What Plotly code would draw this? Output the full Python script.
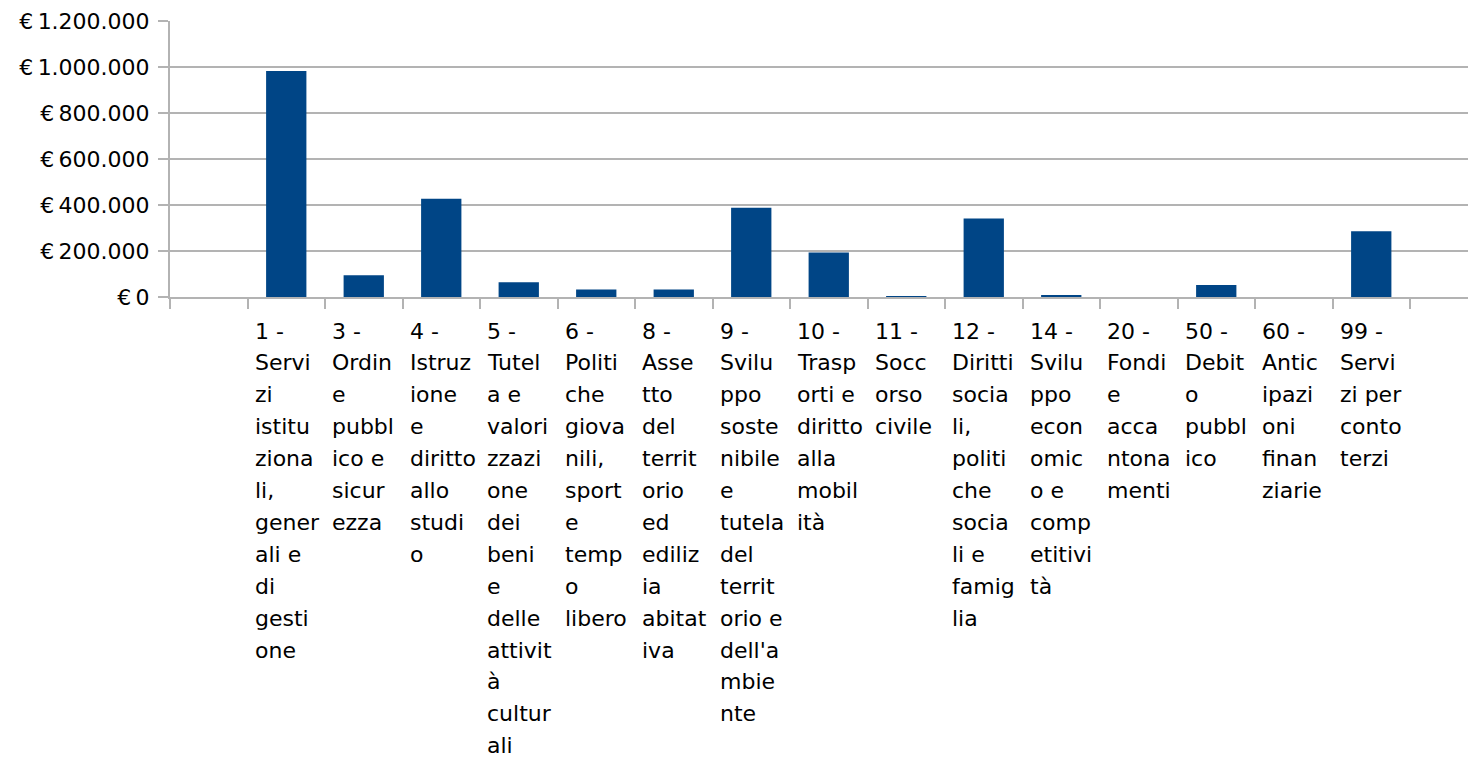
import plotly.graph_objects as go

# ---- data ----
categories = [
    "1 - Servizi istituzionali, generali e di gestione",
    "3 - Ordine pubblico e sicurezza",
    "4 - Istruzione e diritto allo studio",
    "5 - Tutela e valorizzazione dei beni e delle attività culturali",
    "6 - Politiche giovanili, sport e tempo libero",
    "8 - Assetto del territorio ed edilizia abitativa",
    "9 - Sviluppo sostenibile e tutela del territorio e dell'ambiente",
    "10 - Trasporti e diritto alla mobilità",
    "11 - Soccorso civile",
    "12 - Diritti sociali, politiche sociali e famiglia",
    "14 - Sviluppo economico e competitività",
    "20 - Fondi e accantonamenti",
    "50 - Debito pubblico",
    "60 - Anticipazioni finanziarie",
    "99 - Servizi per conto terzi",
]
values = [983000, 95000, 427000, 64000, 33000, 33000, 388000, 194000,
          3000, 341000, 7000, 0, 52000, 0, 286000]

label_lines = [
    ["1 -", "Servi", "zi", "istitu", "ziona", "li,", "gener", "ali e", "di", "gesti", "one"],
    ["3 -", "Ordin", "e", "pubbl", "ico e", "sicur", "ezza"],
    ["4 -", "Istruz", "ione", "e", "diritto", "allo", "studi", "o"],
    ["5 -", "Tutel", "a e", "valori", "zzazi", "one", "dei", "beni", "e", "delle",
     "attivit", "à", "cultur", "ali"],
    ["6 -", "Politi", "che", "giova", "nili,", "sport", "e", "temp", "o", "libero"],
    ["8 -", "Asse", "tto", "del", "territ", "orio", "ed", "ediliz", "ia", "abitat", "iva"],
    ["9 -", "Svilu", "ppo", "soste", "nibile", "e", "tutela", "del", "territ", "orio e",
     "dell'a", "mbie", "nte"],
    ["10 -", "Trasp", "orti e", "diritto", "alla", "mobil", "ità"],
    ["11 -", "Socc", "orso", "civile"],
    ["12 -", "Diritti", "socia", "li,", "politi", "che", "socia", "li e", "famig", "lia"],
    ["14 -", "Svilu", "ppo", "econ", "omic", "o e", "comp", "etitivi", "tà"],
    ["20 -", "Fondi", "e", "acca", "ntona", "menti"],
    ["50 -", "Debit", "o", "pubbl", "ico"],
    ["60 -", "Antic", "ipazi", "oni", "finan", "ziarie"],
    ["99 -", "Servi", "zi per", "conto", "terzi"],
]

y_ticks = [0, 200000, 400000, 600000, 800000, 1000000, 1200000]

# ---- layout constants ----
W, H = 1468, 760
FONT = "DejaVu Sans"
BAR_COLOR = "#004586"
GRID = "#b3b3b3"
LINE_PITCH = 31.9
FIRST_LINE = 34

# slot 0 is empty, categories occupy slots 1..15, slot 16 empty
positions = list(range(1, len(categories) + 1))


def euro(v):
    return "€\u2009" + f"{v:,}".replace(",", ".")


fig = go.Figure()
fig.add_trace(go.Bar(
    x=positions, y=values, marker=dict(color=BAR_COLOR, line=dict(width=0)),
    width=0.52, hovertext=categories, hoverinfo="text+y",
))

annotations = []
for pos, lines in zip(positions, label_lines):
    for k, line in enumerate(lines):
        annotations.append(dict(
            x=pos - 0.5, xref="x", xanchor="left", xshift=6,
            y=0, yref="paper", yanchor="middle",
            yshift=-(FIRST_LINE + k * LINE_PITCH),
            text=line, showarrow=False, align="left", borderpad=0,
            font=dict(family=FONT, size=22, color="#000000"),
        ))

plot_w = W - 170
x_max = -0.5 + plot_w / 77.5

fig.update_layout(
    width=W, height=H,
    margin=dict(l=170, r=0, t=21, b=H - 297, pad=0),
    paper_bgcolor="white", plot_bgcolor="white",
    showlegend=False, bargap=0.48,
    annotations=annotations,
    font=dict(family=FONT, size=22, color="#000000"),
    xaxis=dict(
        range=[-0.5, x_max], tickmode="array",
        tickvals=[p - 0.5 for p in range(0, 18)], ticktext=[""] * 18,
        ticks="outside", ticklen=10, tickcolor=GRID, tickwidth=2,
        showgrid=False, zeroline=False,
        showline=True, linecolor=GRID, linewidth=2,
    ),
    yaxis=dict(
        range=[0, 1200000], tickmode="array", tickvals=y_ticks,
        ticktext=[euro(v) for v in y_ticks],
        ticks="outside", ticklen=10, tickcolor=GRID, tickwidth=2,
        showgrid=True, gridcolor=GRID, gridwidth=2,
        showline=True, linecolor=GRID, linewidth=2, zeroline=False,
        ticklabelstandoff=4,
        tickfont=dict(family=FONT, size=22, color="#000000"),
    ),
)

fig.write_html(
    "out.html",
    config={"displayModeBar": False},
    post_script="document.body.style.margin='0';document.body.style.overflow='hidden';",
)
